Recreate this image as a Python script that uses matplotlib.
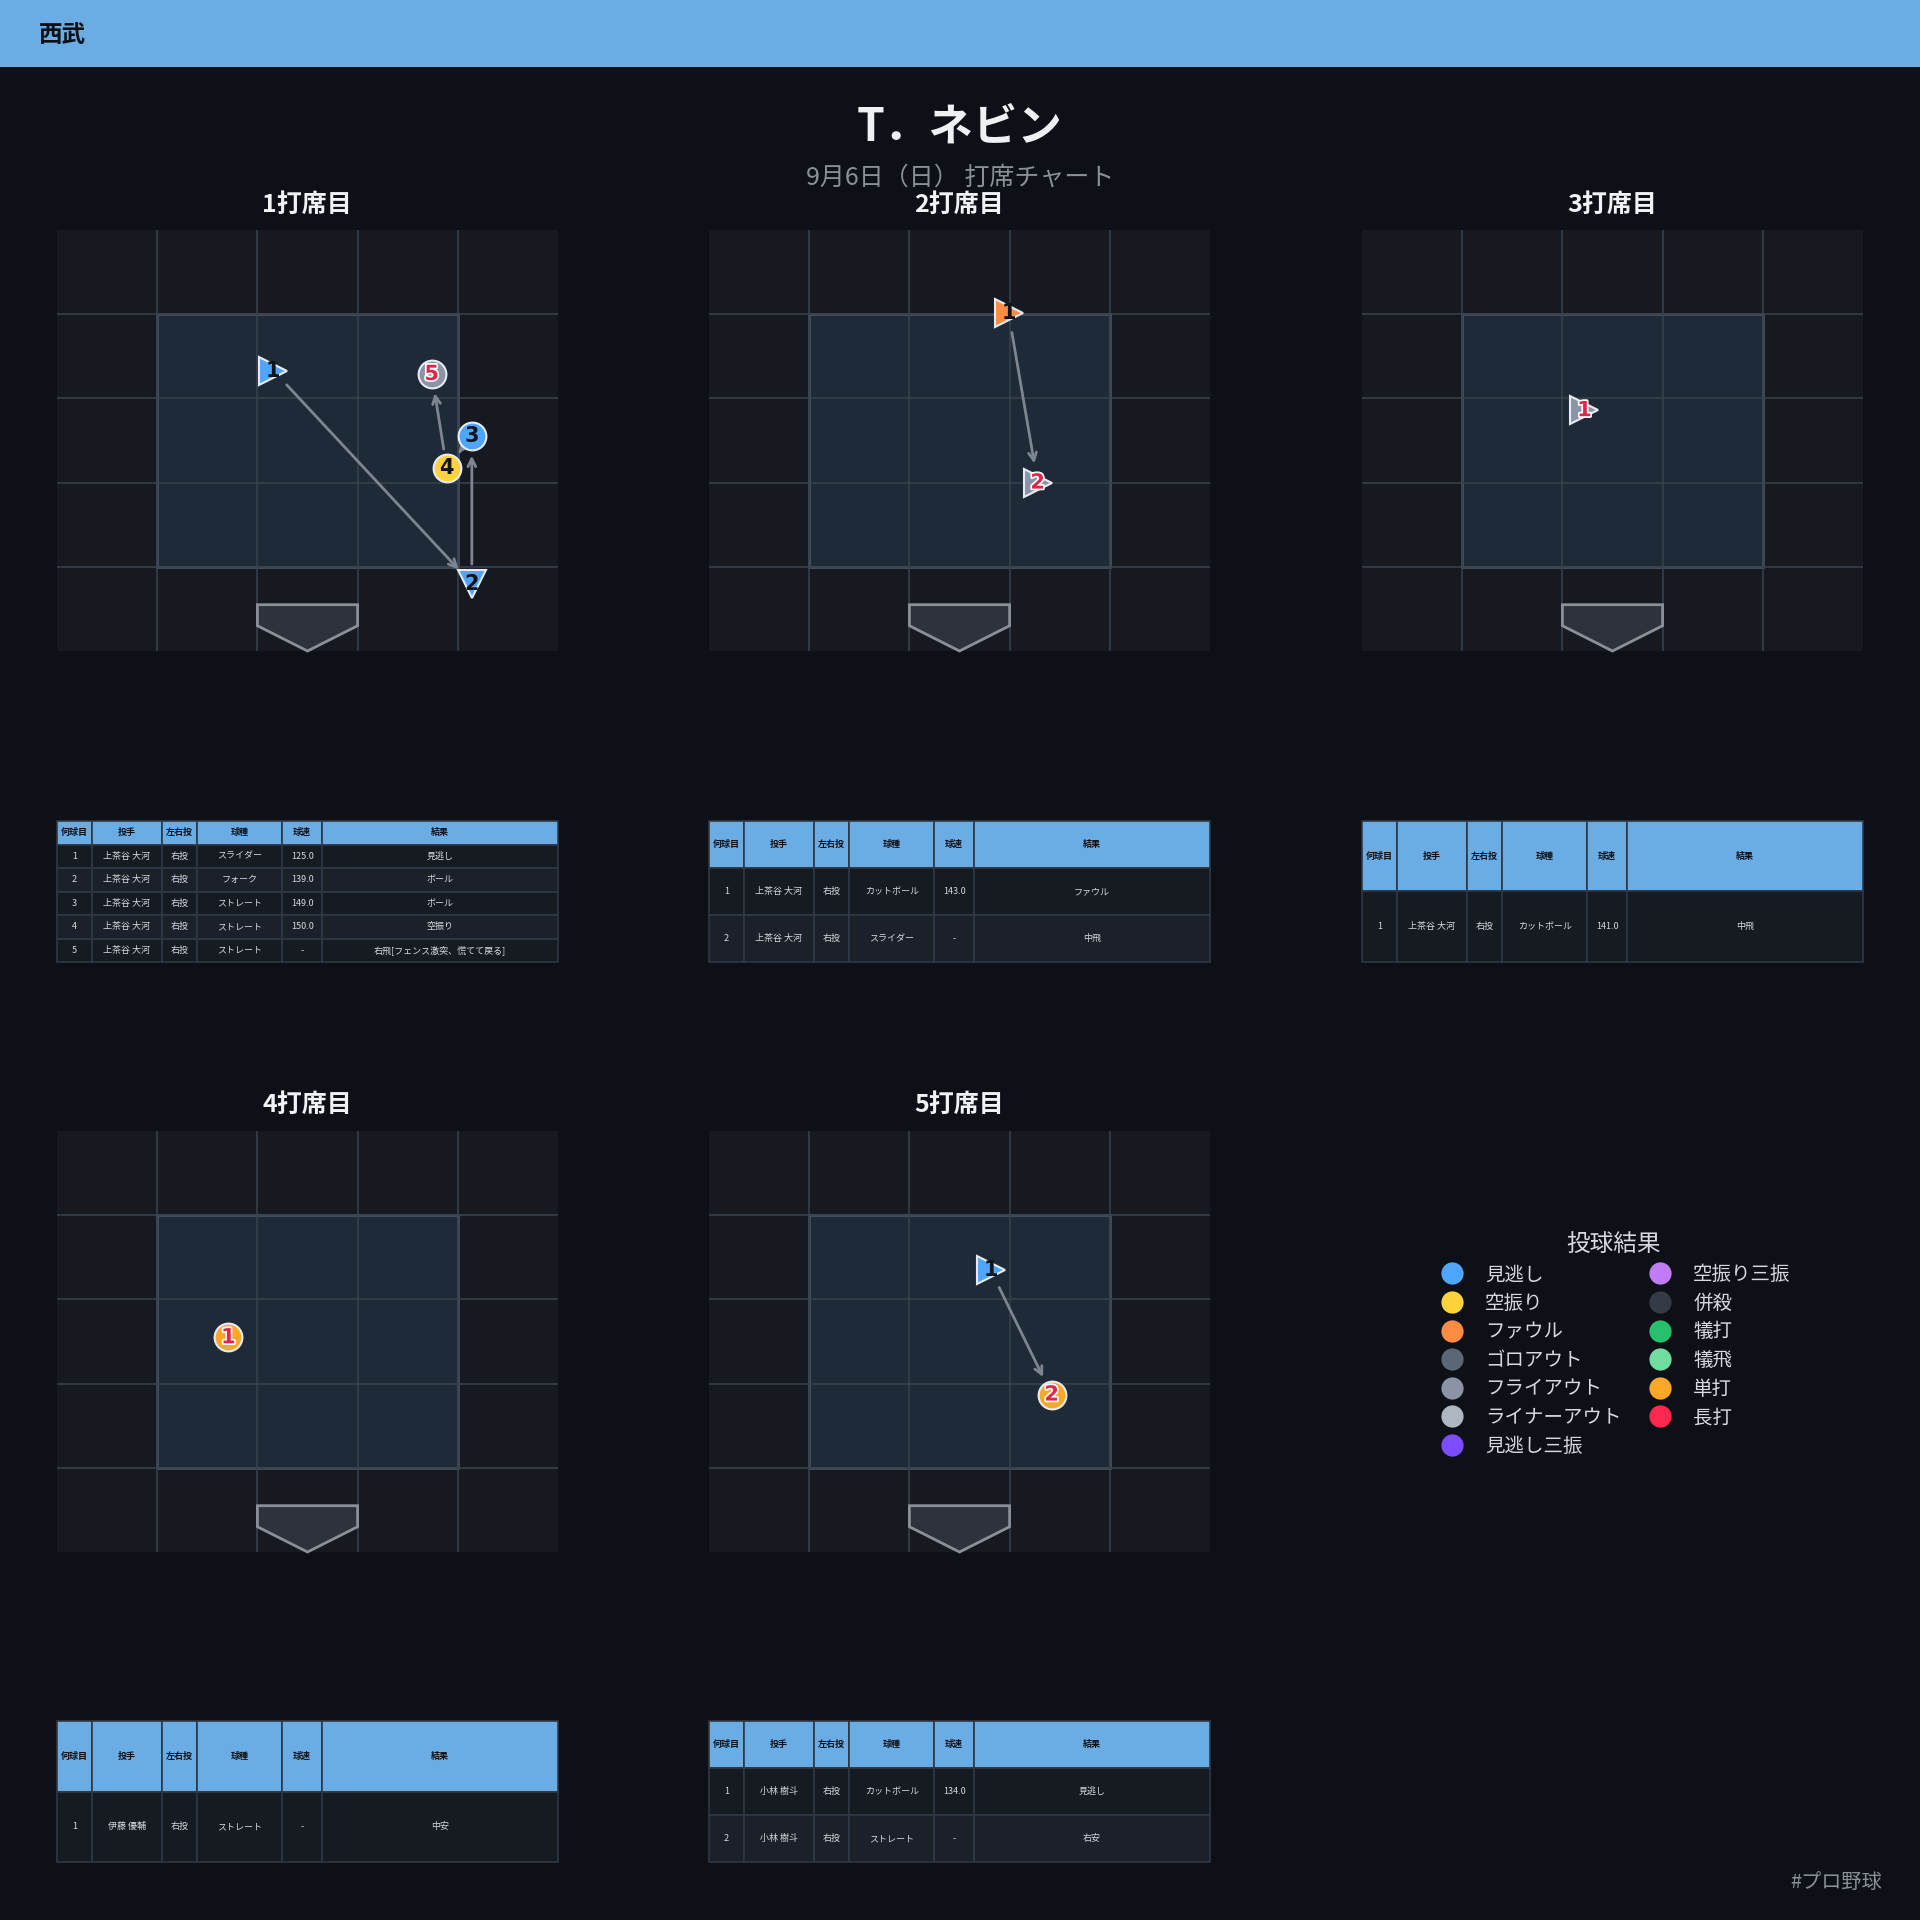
import matplotlib.pyplot as plt
from matplotlib.patches import Rectangle, Polygon
from matplotlib.lines import Line2D
import matplotlib.patheffects as pe

plt.rcParams['font.family'] = ['Noto Sans CJK JP', 'DejaVu Sans']

# ---- data ----
team = '西武'
player = 'T．ネビン'
subtitle = '9月6日（日） 打席チャート'
hashtag = '#プロ野球'

ab_titles = ['1打席目', '2打席目', '3打席目', '4打席目', '5打席目']
ab_pitcher = ['上茶谷 大河', '上茶谷 大河', '上茶谷 大河', '伊藤 優輔', '小林 樹斗']
ab_throw = ['右投', '右投', '右投', '右投', '右投']

pitch_types = [['スライダー', 'フォーク', 'ストレート', 'ストレート', 'ストレート'],
               ['カットボール', 'スライダー'],
               ['カットボール'],
               ['ストレート'],
               ['カットボール', 'ストレート']]
speeds = [[125.0, 139.0, 149.0, 150.0, None],
          [143.0, None],
          [141.0],
          [None],
          [134.0, None]]
results = [['見逃し', 'ボール', 'ボール', '空振り', '右飛[フェンス激突、慌てて戻る]'],
           ['ファウル', '中飛'],
           ['中飛'],
           ['中安'],
           ['見逃し', '右安']]
# legend category used for the marker colour
categories = [['見逃し', '見逃し', '見逃し', '空振り', 'フライアウト'],
              ['ファウル', 'フライアウト'],
              ['フライアウト'],
              ['単打'],
              ['見逃し', '単打']]
# location in zone-grid units (5x5 cells, strike zone = inner 3x3)
loc_x = [[2.16, 4.14, 4.14, 3.89, 3.74], [2.99, 3.28], [2.22], [1.71], [2.81, 3.42]]
loc_y = [[3.33, 0.80, 2.55, 2.17, 3.29], [4.01, 2.00], [2.86], [2.55], [3.35, 1.87]]

legend_labels = ['見逃し', '空振り', 'ファウル', 'ゴロアウト', 'フライアウト', 'ライナーアウト', '見逃し三振',
                 '空振り三振', '併殺', '犠打', '犠飛', '単打', '長打']
legend_colors = ['#4da6ff', '#ffd43b', '#ff8c42', '#5c6775', '#8a94a6', '#aeb6c2', '#7c4dff',
                 '#c17bf5', '#343a46', '#27c06b', '#6fdca0', '#ffa726', '#ff2950']

table_cols = ['何球目', '投手', '左右投', '球種', '球速', '結果']
col_widths = [0.069, 0.140, 0.070, 0.171, 0.079, 0.471]
pitch_markers = {'スライダー': '>', 'カットボール': '>', 'フォーク': 'v', 'ストレート': 'o'}

# ---- style ----
BG = '#0d1017'
BLUE = '#6aace4'
color_of = dict(zip(legend_labels, legend_colors))

fig = plt.figure(figsize=(19.2, 19.2), dpi=100, facecolor=BG)
W = 1920.0


def box(left, top, width, height):
    return [left / W, 1 - (top + height) / W, width / W, height / W]


# header bar
fig.add_artist(Rectangle((0, 1 - 67 / W), 1, 67 / W, transform=fig.transFigure,
                         facecolor=BLUE, edgecolor='none'))
fig.text(39 / W, 1 - 35 / W, team, fontsize=17, fontweight='bold', color='#0d1017',
         ha='left', va='center')

fig.text(0.5, 1 - 128 / W, player, fontsize=32, fontweight='bold', color='#eef0f4',
         ha='center', va='center')
fig.text(0.5, 1 - 178 / W, subtitle, fontsize=18, color='#8a8f98', ha='center', va='center')
fig.text(1882 / W, 1 - 1882 / W, hashtag, fontsize=14.5, color='#8a8f98', ha='right', va='center')

col_left = [57, 709, 1362]
zone_top = [230, 1131]
table_top = [821, 1721]
title_y = [205, 1105]

for i in range(5):
    r, c = divmod(i, 3)
    left = col_left[c]

    # ---- zone ----
    ax = fig.add_axes(box(left, zone_top[r], 501, 421))
    ax.set_facecolor('#161920')
    ax.set_xlim(0, 5)
    ax.set_ylim(0, 5)
    ax.set_xticks([])
    ax.set_yticks([])
    for s in ax.spines.values():
        s.set_visible(False)
    ax.add_patch(Rectangle((1, 1), 3, 3, facecolor='#1f2a38', edgecolor='#44505e', lw=2, zorder=1))
    for k in range(1, 5):
        ax.axvline(k, color='#39424f', lw=1.1, zorder=2)
        ax.axhline(k, color='#39424f', lw=1.1, zorder=2)
    ax.add_patch(Polygon([(2, 0.55), (3, 0.55), (3, 0.30), (2.5, 0.0), (2, 0.30)],
                         closed=True, facecolor='#2e323a', edgecolor='#8a8f98', lw=2,
                         zorder=3, clip_on=False))
    fig.text((left + 250) / W, 1 - title_y[r] / W, ab_titles[i], fontsize=18,
             fontweight='bold', color='#f0f2f5', ha='center', va='center')

    xs, ys = loc_x[i], loc_y[i]
    n = len(xs)
    for k in range(n - 1):
        ax.annotate('', xy=(xs[k + 1], ys[k + 1]), xytext=(xs[k], ys[k]),
                    arrowprops=dict(arrowstyle='->', color='#7d8590', lw=2,
                                    shrinkA=14, shrinkB=14, mutation_scale=14),
                    zorder=4)
    for k in range(n):
        ax.plot(xs[k], ys[k], marker=pitch_markers[pitch_types[i][k]], ms=20, ls='none',
                mfc=color_of[categories[i][k]], mec='#e6ebf2', mew=1.5, zorder=5)
        last = k == n - 1
        t = ax.text(xs[k], ys[k], str(k + 1), fontsize=15, fontweight='bold',
                    family='DejaVu Sans', ha='center', va='center', zorder=6,
                    color='#e0264a' if last else '#111418')
        if last:
            t.set_path_effects([pe.withStroke(linewidth=2.5, foreground='white')])

    # ---- table ----
    tax = fig.add_axes(box(left, table_top[r], 501, 141))
    tax.axis('off')
    rows = []
    for k in range(n):
        sp = '-' if speeds[i][k] is None else f'{speeds[i][k]:.1f}'
        rows.append([str(k + 1), ab_pitcher[i], ab_throw[i], pitch_types[i][k], sp, results[i][k]])
    tbl = tax.table(cellText=rows, colLabels=table_cols, colWidths=col_widths,
                    bbox=[0, 0, 1, 1], cellLoc='center')
    tbl.auto_set_font_size(False)
    tbl.set_fontsize(6.5)
    for (rr, cc), cell in tbl.get_celld().items():
        cell.set_edgecolor('#2f3845')
        cell.set_linewidth(1.2)
        if rr == 0:
            cell.set_facecolor(BLUE)
            cell.get_text().set_color('#0d1017')
            cell.get_text().set_fontweight('bold')
        else:
            cell.set_facecolor('#161a21' if rr % 2 == 1 else '#1c2029')
            cell.get_text().set_color('#d6d9de')

# ---- legend ----
handles = [Line2D([], [], marker='o', ls='none', ms=16, mfc=c, mec='none') for c in legend_colors]
leg = fig.legend(handles, legend_labels, ncol=2, title='投球結果', loc='upper center',
                 bbox_to_anchor=(1614 / W, 1 - 1224 / W), frameon=False, fontsize=14,
                 title_fontsize=17, labelcolor='#d6d9de', handlelength=1.5,
                 handletextpad=0.95, columnspacing=1.25, labelspacing=0.39, borderpad=0)
leg.get_title().set_color('#d6d9de')

fig.savefig('out.png', dpi=100, facecolor=BG)
